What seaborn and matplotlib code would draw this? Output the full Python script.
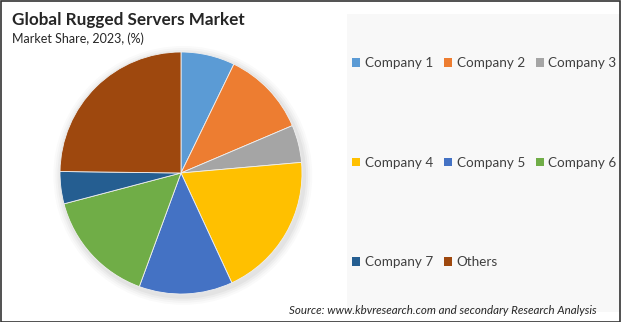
import matplotlib
matplotlib.use("Agg")
import matplotlib.pyplot as plt
import matplotlib.patches as mpatches
import seaborn as sns

labels = ["Company 1", "Company 2", "Company 3", "Company 4",
          "Company 5", "Company 6", "Company 7", "Others"]
shares = [7.2, 11.4, 5.0, 19.5, 12.5, 15.3, 4.3, 24.8]
colors = ["#5B9BD5", "#ED7D31", "#A5A5A5", "#FFC000",
          "#4472C4", "#70AD47", "#255E91", "#9E480E"]

sns.set_theme(style="white")
plt.rcParams["font.family"] = ["Lato", "DejaVu Sans"]

W, H = 621, 322
fig = plt.figure(figsize=(W / 100, H / 100), dpi=100)
fig.patch.set_facecolor("white")

# outer frame
fig.add_artist(mpatches.Rectangle((0.5 / W, 0.5 / H), 1 - 1.5 / W, 1 - 1.5 / H,
                                  transform=fig.transFigure, fill=False,
                                  edgecolor="#333333", linewidth=1.2))
# legend panel
fig.add_artist(mpatches.Rectangle((347 / W, (H - 312) / H), 273 / W, 298 / H,
                                  transform=fig.transFigure, facecolor="#F8F8F8",
                                  edgecolor="none", zorder=0))

# pie
cx, cy, r = 181, 173, 121
pad = 12
ax = fig.add_axes([(cx - r - pad) / W, (H - cy - r - pad) / H,
                   (2 * r + 2 * pad) / W, (2 * r + 2 * pad) / H])
ax.axis("off")
wedges, _ = ax.pie(shares, colors=colors, startangle=90, counterclock=False,
                   radius=1, wedgeprops=dict(edgecolor="#f0f0f0", linewidth=0.6))
for w in wedges:
    w.set_zorder(2)
# soft shadow
for i, a in enumerate([0.02, 0.025, 0.03, 0.035]):
    ax.add_patch(mpatches.Circle((0.015, -0.02), 1 + (0.07 - 0.017 * i),
                                 facecolor="black", alpha=a, edgecolor="none", zorder=0))
lim = 1 + pad / r
ax.set_xlim(-lim, lim)
ax.set_ylim(-lim, lim)
ax.set_aspect("equal")

# titles
fig.text(12 / W, 1 - 20 / H, "Global Rugged Servers Market", fontsize=12.3,
         fontweight="bold", color="#262626", va="center", ha="left")
fig.text(12 / W, 1 - 39 / H, "Market Share, 2023, (%)", fontsize=9,
         color="#262626", va="center", ha="left")

# legend (row-major order across 3 columns)
handles = [mpatches.Patch(facecolor=c, edgecolor="none", label=l)
           for c, l in zip(colors, labels)]
order = [0, 3, 6, 1, 4, 7, 2, 5]
leg = fig.legend(handles=[handles[i] for i in order], ncol=3, loc="upper left",
                 bbox_to_anchor=(352 / W, 1 - 57 / H),
                 frameon=False, fontsize=9.7, handlelength=0.6, handleheight=0.6,
                 handletextpad=0.35, columnspacing=0.8, labelspacing=6.5,
                 borderaxespad=0, borderpad=0)
for t in leg.get_texts():
    t.set_color("#404040")

fig.text(597 / W, 1 - 310 / H,
         "Source: www.kbvresearch.com and secondary Research Analysis",
         fontsize=8.3, style="italic", color="#262626", ha="right", va="center")

fig.savefig("out.png", dpi=100)
